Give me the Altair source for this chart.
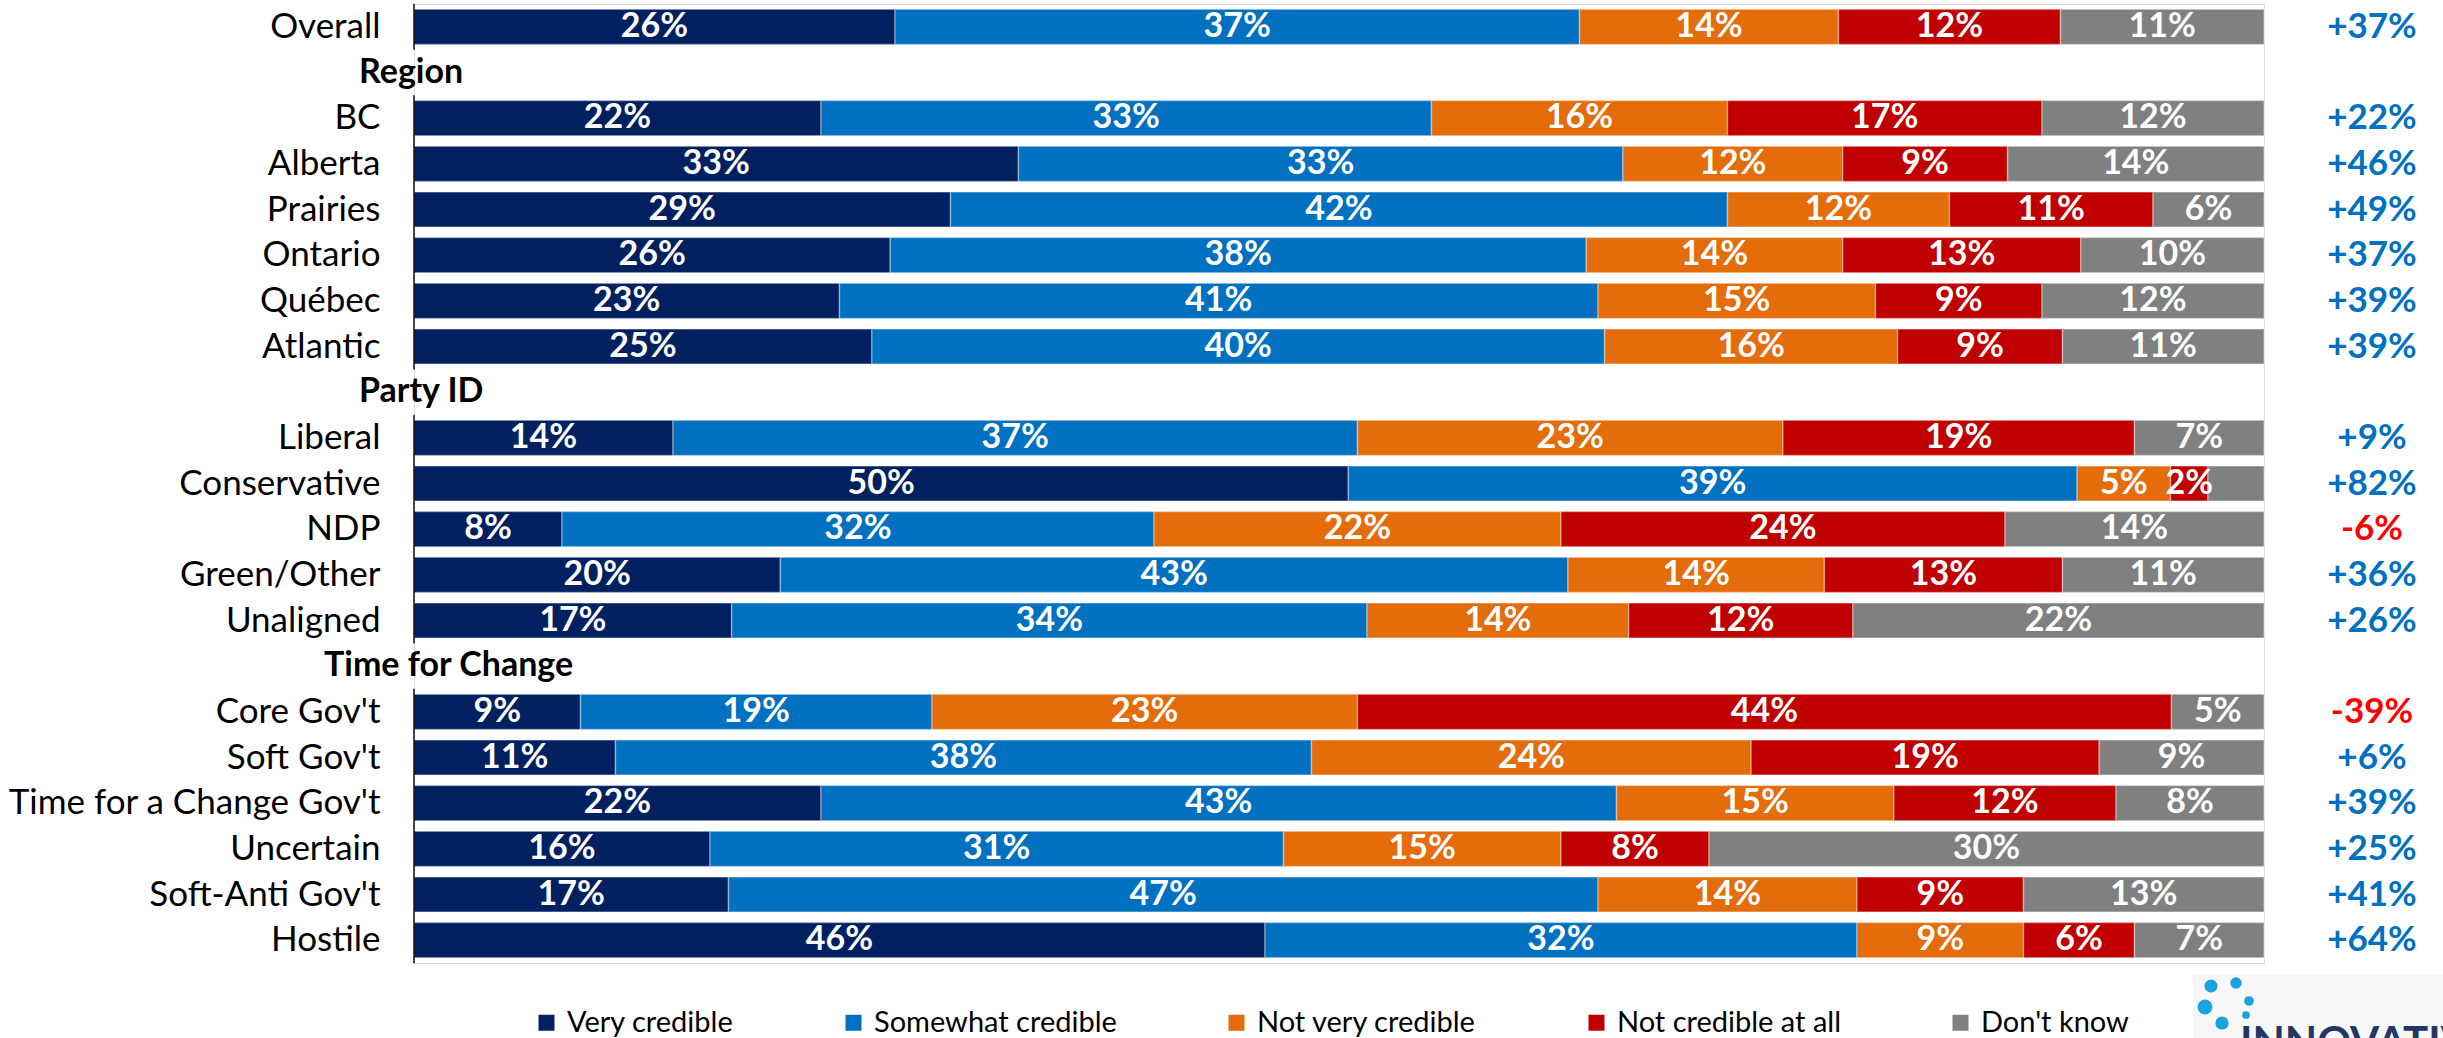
import altair as alt
import pandas as pd

# ---------------- data ----------------
row_order = ["Overall", "Region", "BC", "Alberta", "Prairies", "Ontario", "Québec", "Atlantic",
             "Party ID", "Liberal", "Conservative", "NDP", "Green/Other", "Unaligned",
             "Time for Change", "Core Gov't", "Soft Gov't", "Time for a Change Gov't",
             "Uncertain", "Soft-Anti Gov't", "Hostile"]
headers = ["Region", "Party ID", "Time for Change"]

categories = ["Overall", "BC", "Alberta", "Prairies", "Ontario", "Québec", "Atlantic",
              "Liberal", "Conservative", "NDP", "Green/Other", "Unaligned",
              "Core Gov't", "Soft Gov't", "Time for a Change Gov't", "Uncertain",
              "Soft-Anti Gov't", "Hostile"]

responses = ["Very credible", "Somewhat credible", "Not very credible",
             "Not credible at all", "Don't know"]
colors = ["#002060", "#0070C0", "#E46C0A", "#C00000", "#808080"]

very_credible = [26, 22, 33, 29, 26, 23, 25, 14, 50, 8, 20, 17, 9, 11, 22, 16, 17, 46]
somewhat_credible = [37, 33, 33, 42, 38, 41, 40, 37, 39, 32, 43, 34, 19, 38, 43, 31, 47, 32]
not_very_credible = [14, 16, 12, 12, 14, 15, 16, 23, 5, 22, 14, 14, 23, 24, 15, 15, 14, 9]
not_credible_at_all = [12, 17, 9, 11, 13, 9, 9, 19, 2, 24, 13, 12, 44, 19, 12, 8, 9, 6]
dont_know = [11, 12, 14, 6, 10, 12, 11, 7, 3, 14, 11, 22, 5, 9, 8, 30, 13, 7]
net = ["+37%", "+22%", "+46%", "+49%", "+37%", "+39%", "+39%", "+9%", "+82%", "-6%",
       "+36%", "+26%", "-39%", "+6%", "+39%", "+25%", "+41%", "+64%"]
unlabeled = [("Conservative", "Don't know")]

series = [very_credible, somewhat_credible, not_very_credible, not_credible_at_all, dont_know]

recs = []
for i, cat in enumerate(categories):
    for j, resp in enumerate(responses):
        v = series[j][i]
        lab = "" if (cat, resp) in unlabeled else f"{v}%"
        recs.append({"cat": cat, "resp": resp, "order": j, "value": v, "label": lab})
df = pd.DataFrame(recs)
df_net = pd.DataFrame({"cat": categories, "net": net})
df_axis = pd.DataFrame({"cat": categories})

FONT = "Lato"
W, H = 1850, 959

y_enc = alt.Y(
    "cat:N",
    sort=row_order,
    scale=alt.Scale(domain=row_order, paddingInner=0.23, paddingOuter=0.115),
    title=None,
    axis=alt.Axis(
        ticks=False, tickSize=0, domain=False, grid=False,
        labelFont=FONT, labelFontSize=35, labelColor="black", labelPadding=34,
        labelLimit=600,
        labelExpr="indexof(['Region','Party ID','Time for Change'], datum.value) >= 0 ? '' : datum.value",
    ),
)

base = alt.Chart(df).transform_stack(
    stack="value", groupby=["cat"], sort=[alt.SortField("order")],
    as_=["v0", "v1"], offset="normalize"
)

bars = base.mark_bar(stroke="white", strokeOpacity=0.35, strokeWidth=1.5).encode(
    y=y_enc,
    x=alt.X("v0:Q", scale=alt.Scale(domain=[0, 1]), axis=None),
    x2="v1:Q",
    color=alt.Color(
        "resp:N",
        scale=alt.Scale(domain=responses, range=colors),
        legend=alt.Legend(
            orient="none", legendX=118, legendY=1004, direction="horizontal",
            title=None, symbolType="square", symbolSize=256, symbolStrokeWidth=0,
            labelFont=FONT, labelFontSize=29, labelColor="black",
            columnPadding=105, labelOffset=6, labelLimit=500,
        ),
    ),
    order=alt.Order("order:Q"),
)

bar_text = base.transform_calculate(mid="(datum.v0 + datum.v1) / 2").mark_text(
    font=FONT, fontSize=34, fontWeight="bold", color="white", baseline="middle", align="center"
).encode(
    y=y_enc,
    x=alt.X("mid:Q", scale=alt.Scale(domain=[0, 1]), axis=None),
    text="label:N",
)

axis_line = alt.Chart(df_axis).mark_tick(
    orient="vertical", size=46, thickness=2, color="black"
).encode(y=y_enc, x=alt.value(0))

layers = [bars, bar_text, axis_line]

header_dx = {"Region": -55, "Party ID": -55, "Time for Change": -90}
for h in headers:
    layers.append(
        alt.Chart(pd.DataFrame({"cat": [h]})).mark_text(
            font=FONT, fontSize=34, fontWeight="bold", color="black",
            align="left", baseline="middle", dx=header_dx[h]
        ).encode(y=y_enc, x=alt.value(0), text="cat:N")
    )

net_text = alt.Chart(df_net).mark_text(
    font=FONT, fontSize=35, fontWeight="bold", align="center", baseline="middle"
).encode(
    y=y_enc,
    x=alt.value(1958),
    text="net:N",
    color=alt.condition("indexof(datum.net, '-') == 0", alt.value("#FF0000"), alt.value("#0070C0")),
)
layers.append(net_text)

# logo (decorative, partially cropped at bottom right)
logo_bg = alt.Chart(df_axis.head(1)).mark_rect(color="#f7f7f7").encode(
    x=alt.value(1779), x2=alt.value(2040), y=alt.value(971), y2=alt.value(1040)
)
layers.append(logo_bg)
for (lx, ly, ls) in [(1797, 982, 170), (1822, 979, 130), (1835, 997, 95),
                     (1791, 1003, 220), (1832, 1011, 60), (1808, 1019, 175)]:
    layers.append(
        alt.Chart(df_axis.head(1)).mark_circle(color="#1BA3E0", opacity=1, size=ls).encode(
            x=alt.value(lx), y=alt.value(ly)
        )
    )
layers.append(
    alt.Chart(df_axis.head(1)).mark_text(
        text="INNOVATIVE", font="Lato", fontSize=42, fontWeight="bold",
        color="#1F3864", align="left", baseline="top"
    ).encode(x=alt.value(1826), y=alt.value(1020))
)

chart = alt.layer(*layers).properties(
    width=W, height=H,
    autosize=alt.AutoSizeParams(type="none"),
    padding={"left": 414, "top": 4, "right": 179, "bottom": 75},
).configure_view(stroke=None).configure(background="white")

chart.save("out.html", embed_options={"renderer": "svg", "actions": False})
